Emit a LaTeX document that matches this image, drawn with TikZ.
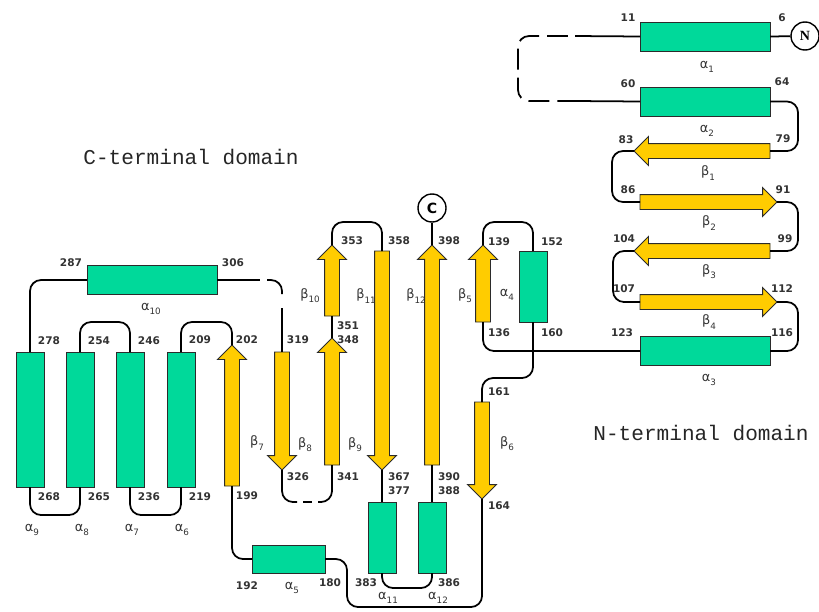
\documentclass[tikz,border=0pt]{standalone}
\usepackage{fontspec}
\setmainfont{Liberation Serif}
\newfontfamily\dvsans{DejaVu Sans}
\newfontfamily\lmono{Liberation Mono}
\usetikzlibrary{shapes.arrows,positioning}
\definecolor{topoGreen}{HTML}{00D99A}
\definecolor{topoYellow}{HTML}{FFCC00}
\definecolor{topoEdge}{HTML}{2B2B2B}
\newcommand{\sse}[2]{{\dvsans #1\raisebox{-0.6ex}{\fontsize{7.5}{7.5}\selectfont #2}}}

\begin{document}
\begin{tikzpicture}[x=0.03cm,y=-0.03cm,
  helix/.style={draw=topoEdge,fill=topoGreen,line width=0.8pt,inner sep=0pt,outer sep=0pt},
  hlong/.style={helix,minimum width=3.9cm,minimum height=0.87cm},
  hup/.style={helix,minimum width=0.84cm,minimum height=4.05cm},
  hshort/.style={helix,minimum width=0.84cm,minimum height=2.13cm},
  strand/.style={single arrow,draw=topoEdge,fill=topoYellow,line width=0.8pt,
                 inner sep=0.21cm,outer sep=0pt,minimum width=0.84cm,
                 single arrow head extend=0.21cm,single arrow tip angle=90,
                 single arrow head indent=0pt,anchor=tail},
  conn/.style={black,line width=1.5pt,rounded corners=0.33cm},
  term/.style={circle,draw,line width=1.2pt,fill=white,minimum size=0.84cm,
               inner sep=0pt,font=\bfseries\large},
  num/.style={font=\dvsans\bfseries\fontsize{9}{10}\selectfont,text=black!80,inner sep=0pt},
  sslbl/.style={font=\fontsize{11}{12}\selectfont,text=black!80,inner sep=0pt},
  dom/.style={font=\lmono\fontsize{18}{20}\selectfont,text=black!85,inner sep=0pt}]
  \useasboundingbox (0,0) rectangle (819,611);

  % N-terminal domain
  \node[term] (nterm) at (805,36) {N};
  \node[hlong] (a1) at (705,36.5) {};
  \node[hlong] (a2) at (705,101.5) {};
  \node[strand,shape border rotate=180,minimum height=4.08cm] (b1) at (770,151) {};
  \node[strand,minimum height=4.11cm] (b2) at (640,202) {};
  \node[strand,shape border rotate=180,minimum height=4.08cm] (b3) at (770,251) {};
  \node[strand,minimum height=4.11cm] (b4) at (640,302) {};
  \node[hlong] (a3) at (705,351) {};
  \node[strand,shape border rotate=90,minimum height=2.31cm] (b5) at (483,322) {};
  \node[hshort] (a4) at (533,286.5) {};
  \node[strand,shape border rotate=270,minimum height=2.91cm] (b6) at (482,402) {};

  % C-terminal domain
  \node[helix,minimum width=2.19cm,minimum height=0.84cm] (a5) at (288.5,559) {};
  \node[strand,shape border rotate=90,minimum height=4.23cm] (b7) at (232,486) {};
  \node[hup] (a6) at (181,419.5) {};
  \node[hup] (a7) at (130,419.5) {};
  \node[hup] (a8) at (80,419.5) {};
  \node[hup] (a9) at (30,419.5) {};
  \node[hlong] (a10) at (152,280) {};
  \node[strand,shape border rotate=270,minimum height=3.54cm] (b8) at (282,352) {};
  \node[strand,shape border rotate=90,minimum height=3.81cm] (b9) at (332,465) {};
  \node[strand,shape border rotate=90,minimum height=2.13cm] (b10) at (332,316) {};
  \node[strand,shape border rotate=270,minimum height=6.57cm] (b11) at (382,251) {};
  \node[hshort] (a11) at (382,537.5) {};
  \node[hshort] (a12) at (432,537.5) {};
  \node[strand,shape border rotate=90,minimum height=6.6cm] (b12) at (432,465) {};
  \node[term] (cterm) at (432,208) {\dvsans C};

  \coordinate (gap1) at (575,36);  \coordinate (gap2) at (575,101);
  \coordinate (g1) at (260,280);   \coordinate (g2) at (267,280);
  \coordinate (g3) at (282,294);   \coordinate (g4) at (282,308);
  \coordinate (g5) at (297,502);   \coordinate (g6) at (303,502);
  \coordinate (g7) at (312,502);   \coordinate (g8) at (318,502);

  \draw[conn] (a1.east) -- (nterm); \draw[conn] (a1.west) -- (gap1);
  \draw[conn,dash pattern=on 17.9pt off 6.8pt,dash phase=18.7pt] (gap1) -- ++(-57,0) |- (gap2);
  \draw[conn] (gap2) -- (a2.west);
  \draw[conn] (a2.east) -- ++(28,0) |- (b1.tail);
  \draw[conn] (b1.tip) -- ++(-22,0) |- (b2.tail);
  \draw[conn] (b2.tip) -- ++(21,0) |- (b3.tail);
  \draw[conn] (b3.tip) -- ++(-21,0) |- (b4.tail);
  \draw[conn] (b4.tip) -- ++(21,0) |- (a3.east);
  \draw[conn] (a3.west) -| (b5.tail);
  \draw[conn] (b5.tip) -- ++(0,-23) -| (a4.north);
  \draw[conn] (a4.south) -- ++(0,56) -| (b6.tail);
  \draw[conn] (b6.tip) -- ++(0,108) -- ++(-135,0) |- (a5.east);
  \draw[conn] (a5.west) -| (b7.tail);
  \draw[conn] (b7.tip) -- ++(0,-23) -| (a6.north);
  \draw[conn] (a6.south) -- ++(0,28) -| (a7.south);
  \draw[conn] (a7.north) -- ++(0,-30) -| (a8.north);
  \draw[conn] (a8.south) -- ++(0,28) -| (a9.south);
  \draw[conn] (a9.north) |- (a10.west);
  \draw[conn] (a10.east) -- (g1); \draw[conn] (g2) -| (g3);
  \draw[conn] (g4) -- (b8.tail);
  \draw[conn] (b8.tip) |- (g5); \draw[conn] (g6) -- (g7);
  \draw[conn] (g8) -| (b9.tail);
  \draw[conn] (b9.tip) -- (b10.tail);
  \draw[conn] (b10.tip) -- ++(0,-23) -| (b11.tail);
  \draw[conn] (b11.tip) -- (a11.north);
  \draw[conn] (a11.south) -- ++(0,15) -| (a12.south);
  \draw[conn] (a12.north) -- (b12.tail);
  \draw[conn] (b12.tip) -- (cterm);

  % residue numbers
  \node[num] (r11) at (628,18) {11};    \node[num] (r6) at (782,18) {6};
  \node[num] (r60) at (628,84) {60};    \node[num] (r64) at (782,82) {64};
  \node[num] (r83) at (626,140) {83};   \node[num] (r79) at (783,139) {79};
  \node[num] (r86) at (628,190) {86};   \node[num] (r91) at (783,190) {91};
  \node[num] (r104) at (624,239) {104}; \node[num] (r99) at (785,239) {99};
  \node[num] (r107) at (624,289) {107}; \node[num] (r112) at (782,289) {112};
  \node[num] (r123) at (622,333) {123}; \node[num] (r116) at (782,333) {116};
  \node[num] (r139) at (499,242) {139}; \node[num] (r152) at (552,242) {152};
  \node[num] (r136) at (499,333) {136}; \node[num] (r160) at (552,333) {160};
  \node[num] (r161) at (499,392) {161}; \node[num] (r164) at (499,506) {164};
  \node[num] (r287) at (71,263) {287};  \node[num] (r306) at (233,263) {306};
  \node[num] (r278) at (49,341) {278};  \node[num] (r254) at (99,341) {254};
  \node[num] (r246) at (149,341) {246}; \node[num] (r209) at (200,340) {209};
  \node[num] (r202) at (247,340) {202}; \node[num] (r319) at (298,340) {319};
  \node[num] (r268) at (49,497) {268};  \node[num] (r265) at (99,497) {265};
  \node[num] (r236) at (149,497) {236}; \node[num] (r219) at (200,497) {219};
  \node[num] (r199) at (247,496) {199}; \node[num] (r326) at (298,477) {326};
  \node[num] (r341) at (348,477) {341}; \node[num] (r348) at (348,340) {348};
  \node[num] (r351) at (348,326) {351}; \node[num] (r353) at (352,241) {353};
  \node[num] (r358) at (399,241) {358}; \node[num] (r398) at (449,241) {398};
  \node[num] (r367) at (399,477) {367}; \node[num] (r377) at (399,491) {377};
  \node[num] (r390) at (449,477) {390}; \node[num] (r388) at (449,491) {388};
  \node[num] (r192) at (247,586) {192}; \node[num] (r180) at (330,583) {180};
  \node[num] (r383) at (366,583) {383}; \node[num] (r386) at (449,583) {386};

  % element names
  \node[sslbl] (la1) at (707,67) {\sse{α}{1}};
  \node[sslbl] (la2) at (707,131) {\sse{α}{2}};
  \node[sslbl] (lb1) at (708,173) {\sse{β}{1}};
  \node[sslbl] (lb2) at (709,223) {\sse{β}{2}};
  \node[sslbl] (lb3) at (709,272) {\sse{β}{3}};
  \node[sslbl] (lb4) at (709,322) {\sse{β}{4}};
  \node[sslbl] (la3) at (709,380) {\sse{α}{3}};
  \node[sslbl] (lb5) at (465,296) {\sse{β}{5}};
  \node[sslbl] (la4) at (507,295) {\sse{α}{4}};
  \node[sslbl] (lb6) at (507,444) {\sse{β}{6}};
  \node[sslbl] (la10) at (151,309) {\sse{α}{10}};
  \node[sslbl] (la9) at (32,530) {\sse{α}{9}};
  \node[sslbl] (la8) at (82,530) {\sse{α}{8}};
  \node[sslbl] (la7) at (132,530) {\sse{α}{7}};
  \node[sslbl] (la6) at (182,530) {\sse{α}{6}};
  \node[sslbl] (lb7) at (257,443) {\sse{β}{7}};
  \node[sslbl] (lb8) at (305,445) {\sse{β}{8}};
  \node[sslbl] (lb9) at (355,445) {\sse{β}{9}};
  \node[sslbl] (lb10) at (310,296) {\sse{β}{10}};
  \node[sslbl] (lb11) at (366,296) {\sse{β}{11}};
  \node[sslbl] (lb12) at (416,296) {\sse{β}{12}};
  \node[sslbl] (la5) at (292,588) {\sse{α}{5}};
  \node[sslbl] (la11) at (388,598) {\sse{α}{11}};
  \node[sslbl] (la12) at (438,598) {\sse{α}{12}};

  \node[dom] (cdom) at (191,157) {C-terminal domain};
  \node[dom] (ndom) at (701,433) {N-terminal domain};
\end{tikzpicture}
\end{document}
